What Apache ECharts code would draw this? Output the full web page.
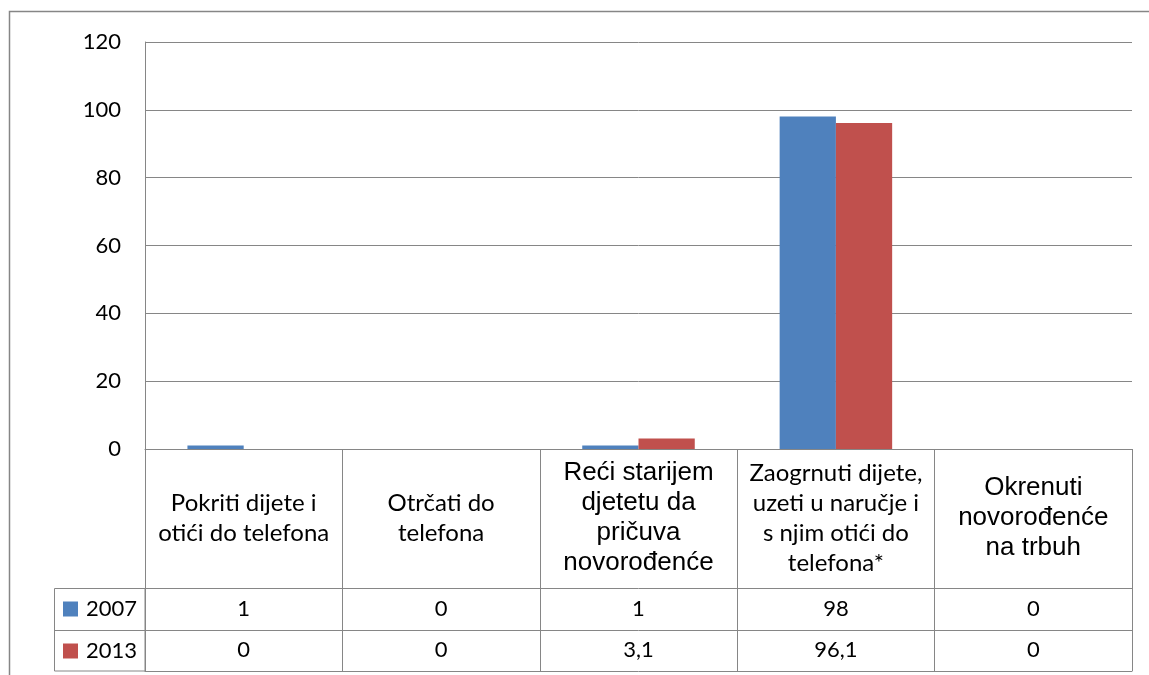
<!DOCTYPE html>
<html>
<head>
<meta charset="utf-8">
<title>chart</title>
<script src="https://cdn.jsdelivr.net/npm/echarts@6.0.0/dist/echarts.min.js"></script>
<style>
  html, body { margin: 0; padding: 0; background: #fff; }
  #main { width: 1149px; height: 675px; }
</style>
</head>
<body>
<div id="main"></div>
<script>
// podaci
const categories = [
  'Pokriti dijete i\notići do telefona',
  'Otrčati do\ntelefona',
  'Reći starijem\ndjetetu da\npričuva\nnovorođenće',
  'Zaogrnuti dijete,\nuzeti u naručje i\ns njim otići do\ntelefona*',
  'Okrenuti\nnovorođenće\nna trbuh',
];
const seriesNames = ['2007', '2013'];
const values2007 = [1, 0, 1, 98, 0];
const values2013 = [0, 0, 3.1, 96.1, 0];
const yTicks = [0, 20, 40, 60, 80, 100, 120];

// stil zaglavlja po kategoriji
const headerStyle = ['cal', 'cal', 'arial', 'cal', 'arial'];
const lineColor = '#868686';

const fmt = (v) => String(v).replace('.', ',');

const myChart = echarts.init(document.getElementById('main'));
myChart.setOption({
  animation: false,
  color: ['#4F81BD', '#C0504D'],
  grid: {
    left: 145,
    right: 17,
    top: 42,
    bottom: 226,
  },
  legend: {
    data: seriesNames,
    orient: 'vertical',
    left: 63,
    top: 598,
    padding: 0,
    icon: 'rect',
    itemWidth: 15,
    itemHeight: 15,
    itemGap: 20,
    selectedMode: false,
    textStyle: {
      fontFamily: 'Lato',
      fontSize: 22,
      lineHeight: 22,
      color: '#000',
      padding: [0, 0, 0, 3],
    },
  },
  xAxis: [
    {
      type: 'category',
      data: categories,
      axisLine: { show: true, lineStyle: { color: lineColor, width: 1 } },
      axisTick: {
        show: true,
        length: 222,
        interval: 0,
        lineStyle: { color: lineColor, width: 1 },
      },
      axisLabel: {
        interval: 0,
        margin: 69,
        verticalAlign: 'middle',
        color: '#000',
        formatter: function (value, index) {
          const st = headerStyle[index];
          return value
            .split('\n')
            .map((l) => '{' + st + '|' + l + '}')
            .join('\n');
        },
        rich: {
          cal: { fontFamily: 'Lato', fontSize: 24, lineHeight: 30, color: '#000', align: 'center' },
          arial: { fontFamily: 'Liberation Sans', fontSize: 26, lineHeight: 30, color: '#000', align: 'center' },
        },
      },
    },
    {
      type: 'category',
      data: categories,
      position: 'bottom',
      offset: 139,
      axisLine: { show: true, lineStyle: { color: lineColor, width: 1 } },
      axisTick: { show: false },
      axisLabel: {
        interval: 0,
        margin: 21,
        verticalAlign: 'middle',
        fontFamily: 'Lato',
        fontSize: 22,
        color: '#000',
        formatter: (v, i) => fmt(values2007[i]),
      },
    },
    {
      type: 'category',
      data: categories,
      position: 'bottom',
      offset: 181,
      axisLine: { show: true, lineStyle: { color: lineColor, width: 1 } },
      axisTick: { show: false },
      axisLabel: {
        interval: 0,
        margin: 20,
        verticalAlign: 'middle',
        fontFamily: 'Lato',
        fontSize: 22,
        color: '#000',
        formatter: (v, i) => fmt(values2013[i]),
      },
    },
    {
      type: 'category',
      data: categories,
      position: 'bottom',
      offset: 222,
      axisLine: { show: true, lineStyle: { color: lineColor, width: 1 } },
      axisTick: { show: false },
      axisLabel: { show: false },
    },
  ],
  yAxis: {
    type: 'value',
    min: yTicks[0],
    max: yTicks[yTicks.length - 1],
    interval: yTicks[1] - yTicks[0],
    axisLine: { show: true, lineStyle: { color: lineColor, width: 1 } },
    axisTick: { show: false },
    axisLabel: {
      margin: 24,
      fontFamily: 'Lato',
      fontSize: 22,
      color: '#000',
    },
    splitLine: { lineStyle: { color: lineColor, width: 1 } },
  },
  series: [
    {
      name: seriesNames[0],
      type: 'bar',
      data: values2007,
      barGap: '0%',
      barCategoryGap: '43%',
    },
    {
      name: seriesNames[1],
      type: 'bar',
      data: values2013,
      barGap: '0%',
      barCategoryGap: '43%',
    },
  ],
  graphic: [
    // okvir grafikona
    {
      type: 'rect',
      silent: true,
      shape: { x: 9.5, y: 11.5, width: 1200, height: 700 },
      style: { fill: 'none', stroke: lineColor, lineWidth: 1.5 },
    },
    // stupac legende u tablici
    {
      type: 'rect',
      silent: true,
      shape: { x: 54.5, y: 588.5, width: 90.5, height: 82.5 },
      style: { fill: 'none', stroke: lineColor, lineWidth: 1 },
    },
    {
      type: 'line',
      silent: true,
      shape: { x1: 54.5, y1: 630.5, x2: 145, y2: 630.5 },
      style: { stroke: lineColor, lineWidth: 1 },
    },
  ],
});
</script>
</body>
</html>
